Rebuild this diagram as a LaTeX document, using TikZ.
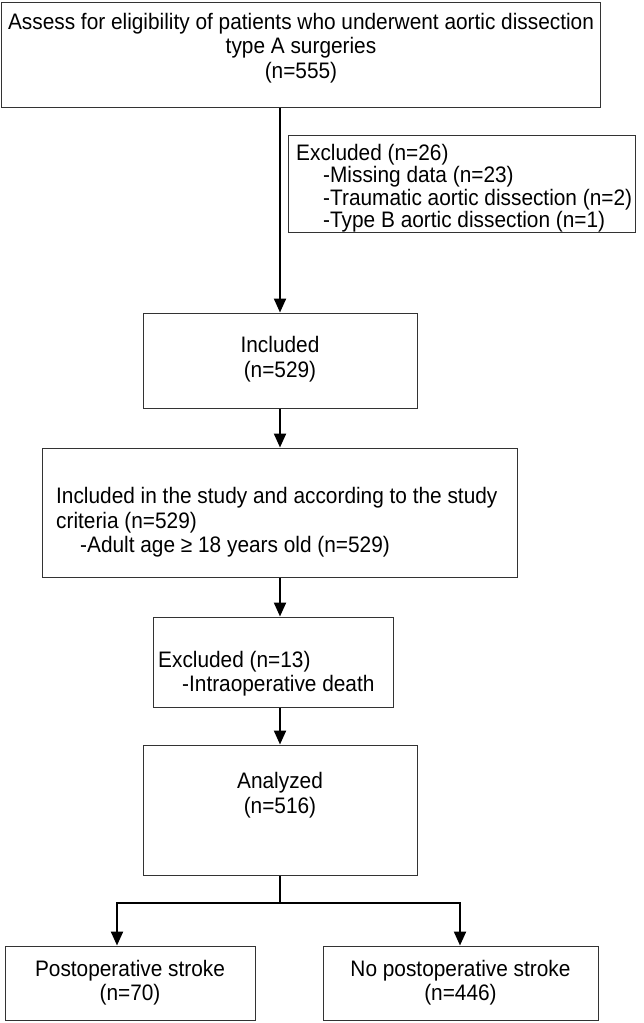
\documentclass[tikz,border=0pt]{standalone}
\usepackage{fontspec}
\setmainfont{Liberation Sans}[FakeStretch=0.93]
\usetikzlibrary{arrows.meta}
\begin{document}
\begin{tikzpicture}[x=1pt,y=-1pt,
  box/.style={draw=black!80, line width=1pt, inner sep=0pt, fill=white},
  txt/.style={inner sep=0pt, font=\fontsize{22.4}{24.5}\selectfont},
  txtc/.style={txt, align=center},
  txtl/.style={txt, align=left, anchor=west},
  flow/.style={line width=2.2pt, -{Triangle[length=14pt,width=12pt]}},
  plain/.style={line width=2.2pt}]
\useasboundingbox (0,0) rectangle (643,1023);
% boxes
\node[box, minimum width=599pt, minimum height=105pt] (b1) at (301,54.5) {};
\node[box, minimum width=347pt, minimum height=97pt] (ex1) at (462,183.5) {};
\node[box, minimum width=274pt, minimum height=95pt] (inc) at (280,360.5) {};
\node[box, minimum width=475pt, minimum height=129pt] (b3) at (280,512.5) {};
\node[box, minimum width=240pt, minimum height=90pt] (b4) at (273,662) {};
\node[box, minimum width=274pt, minimum height=130pt] (an) at (280,810) {};
\node[box, minimum width=250pt, minimum height=74pt] (ps) at (130,983) {};
\node[box, minimum width=275pt, minimum height=74pt] (nps) at (460.5,983) {};
% texts
\node[txtc] (t1) at (301,48) {Assess for eligibility of patients who underwent aortic dissection\\type A surgeries\\(n=555)};
\node[txtl, font=\fontsize{22.4}{22.5}\selectfont] (t2) at (296,188) {Excluded (n=26)\\\hspace*{27pt}-Missing data (n=23)\\\hspace*{27pt}-Traumatic aortic dissection (n=2)\\\hspace*{27pt}-Type B aortic dissection (n=1)};
\node[txtc] (t3) at (280,359) {Included\\(n=529)};
\node[txtl] (t4) at (56,522.5) {Included in the study and according to the study\\criteria (n=529)\\\hspace*{24pt}-Adult age ≥ 18 years old (n=529)};
\node[txtl] (t5) at (158,673.5) {Excluded (n=13)\\\hspace*{24pt}-Intraoperative death};
\node[txtc] (t6) at (280,795) {Analyzed\\(n=516)};
\node[txtc] (t7) at (130,982.5) {Postoperative stroke\\(n=70)};
\node[txtc] (t8) at (460.5,982.5) {No postoperative stroke\\(n=446)};
% connectors
\draw[flow] (b1.south -| inc.north) -- (inc.north);
\draw[flow] (inc.south) -- (inc.south |- b3.north);
\draw[flow] (b3.south -| inc.south) -- (b4.north -| inc.south);
\draw[flow] (b4.south -| inc.south) -- (an.north);
\coordinate (jl) at (117,903);
\coordinate (jr) at (460,903);
\draw[plain] (an.south) -- (an.south |- jl);
\draw[plain, line cap=rect] (jl) -- (jr);
\draw[flow] (jl) -- (jl |- ps.north);
\draw[flow] (jr) -- (jr |- nps.north);
\end{tikzpicture}
\end{document}
